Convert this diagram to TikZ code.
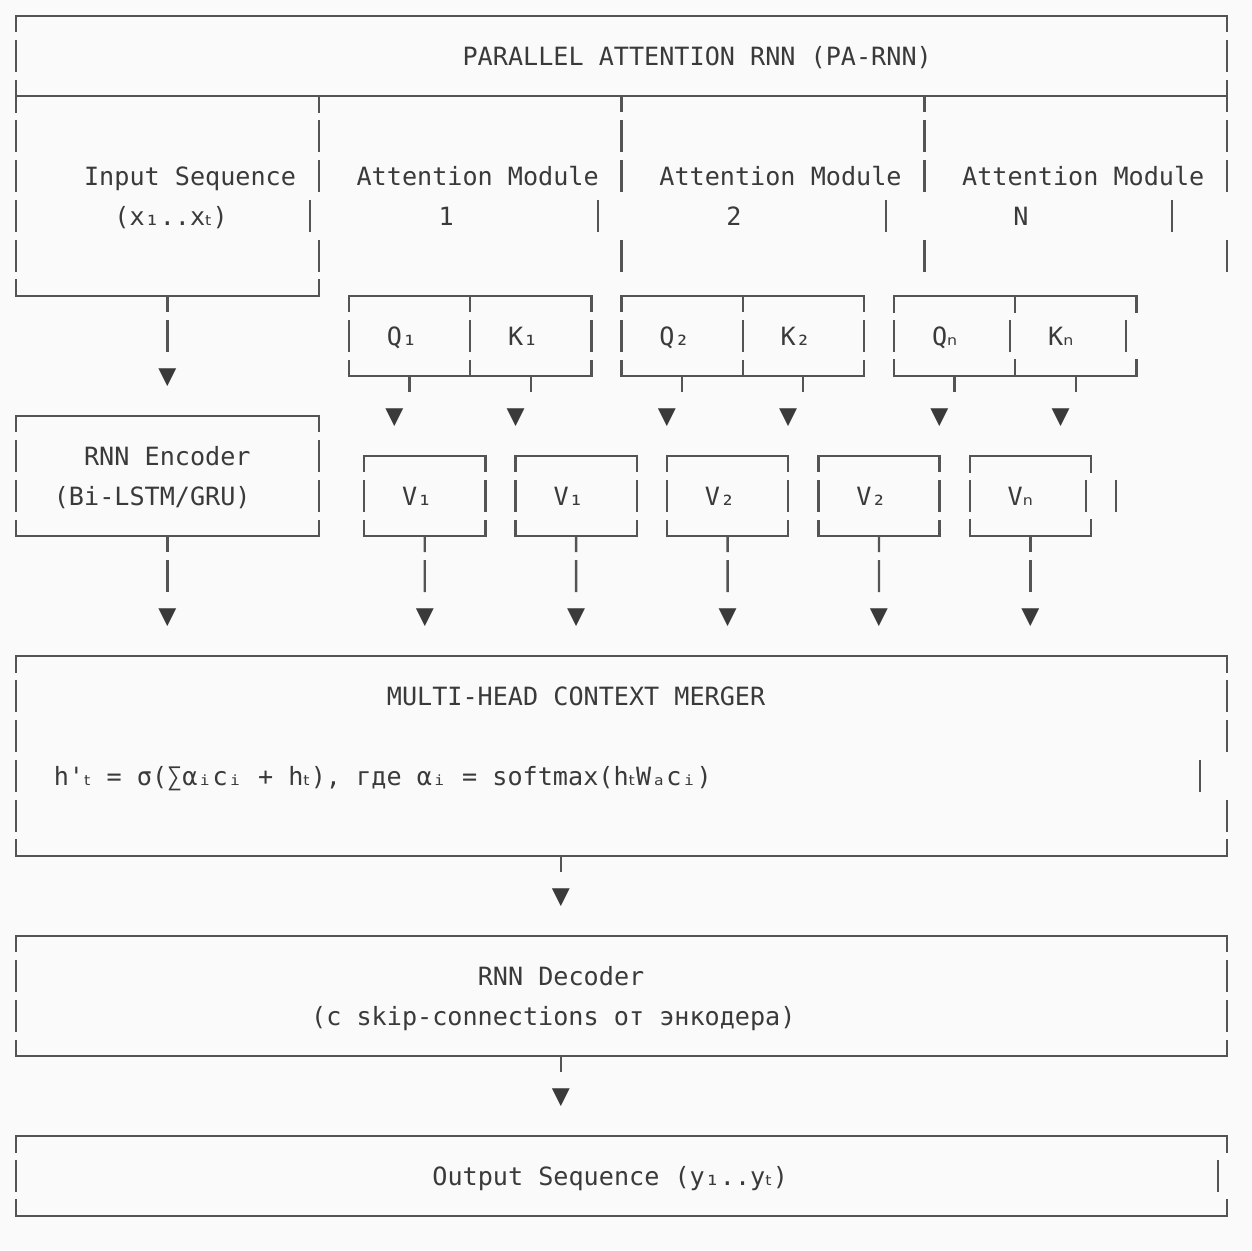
\documentclass[tikz,border=0pt]{standalone}
\usepackage{fontspec}
\newfontfamily\monofont{DejaVu Sans Mono}
\newfontfamily\subfont{DejaVu Sans}
\usetikzlibrary{fit}
\definecolor{paper}{HTML}{FAFAFA}
\definecolor{ink}{HTML}{3A3A3A}
\definecolor{rule}{HTML}{545454}
\newcommand{\subt}{{\subfont ₜ}}
\newcommand{\subn}{{\subfont ₙ}}
\tikzset{
  seg/.style={draw=rule, line width=1.2pt},
  frame/.style={seg, line cap=rect},
  bar/.style={seg, dash pattern=on 16pt off 4pt, dash phase=8pt},
  txt/.style={font=\monofont\fontsize{12.57pt}{15pt}\selectfont, text=ink,
    inner sep=0pt, outer sep=0pt, text height=9pt, text depth=0pt, anchor=west},
  headmark/.style={txt, anchor=center, font=\monofont\fontsize{15pt}{15pt}\selectfont},
  area/.style={inner sep=0pt, outer sep=0pt},
  box/.style={area, append after command={
    (\tikzlastnode.north west) edge[frame] (\tikzlastnode.north east)
    (\tikzlastnode.south west) edge[frame] (\tikzlastnode.south east)
    (\tikzlastnode.north west) edge[bar] (\tikzlastnode.south west)
    (\tikzlastnode.north east) edge[bar] (\tikzlastnode.south east)}},
  shell/.style={area, append after command={
    ([yshift=-8pt]\tikzlastnode.north west) edge[frame] (\tikzlastnode.north west)
    (\tikzlastnode.north west) edge[frame] (\tikzlastnode.north east)
    (\tikzlastnode.north east) edge[frame] ([yshift=-8pt]\tikzlastnode.north east)
    ([yshift=8pt]\tikzlastnode.south west) edge[frame] (\tikzlastnode.south west)
    (\tikzlastnode.south west) edge[frame] (\tikzlastnode.south east)
    (\tikzlastnode.south east) edge[frame] ([yshift=8pt]\tikzlastnode.south east)}}
}
\begin{document}
\begin{tikzpicture}[x=0.5pt, y=-0.5pt]
	\path[fill=paper, use as bounding box] (0,0) rectangle (1252,1250);

	% title
	\node[box, fit={(16,16) (1227.2,96)}] (top) {};
	\node[txt] (title) at (462.6,56) {PARALLEL ATTENTION RNN (PA-RNN)};

	% input sequence and attention modules
	\node[shell, fit={(16,96) (318.8,296)}] (inbox) {};
	\foreach \x in {621.6,924.4,1227.2}
		\draw[seg] (\x,96) -- (\x,112);
	\foreach \x in {16,318.8,621.6,924.4,1227.2}
		\foreach \y in {136,176,256}
			\draw[seg] (\x,\y-16) -- (\x,\y+16);
	\foreach \x in {16,310,598,886,1172}
		\draw[seg] (\x,200) -- (\x,232);
	\node[txt] (inname) at (84.1,176) {Input Sequence};
	\node[txt] (invars) at (114.4,216) {(x₁..x\subt)};
	\node[txt] (att1) at (356.6,176) {Attention Module};
	\node[txt] (att2) at (659.4,176) {Attention Module};
	\node[txt] (attn) at (962.2,176) {Attention Module};
	\node[txt, anchor=center] (att1no) at (446.3,216) {1};
	\node[txt, anchor=center] (att2no) at (734,216) {2};
	\node[txt, anchor=center] (attnno) at (1021,216) {N};

	% queries and keys
	\node[box, fit={(349.1,296) (470.2,376)}] (q1) {};
	\node[box, fit={(470.2,296) (591.3,376)}] (k1) {};
	\node[box, fit={(621.6,296) (742.7,376)}] (q2) {};
	\node[box, fit={(742.7,296) (863.8,376)}] (k2) {};
	\node[shell, fit={(894.1,296) (1015.2,376)}] (qn) {};
	\node[shell, fit={(1015.2,296) (1136.4,376)}] (kn) {};
	\foreach \x in {894.1,1010,1126}
		\draw[seg] (\x,320) -- (\x,352);
	\node[txt] (q1name) at (386.9,336) {Q₁};
	\node[txt] (k1name) at (508.0,336) {K₁};
	\node[txt] (q2name) at (659.4,336) {Q₂};
	\node[txt] (k2name) at (780.6,336) {K₂};
	\node[txt] (qnname) at (932.0,336) {Q\subn};
	\node[txt] (knname) at (1048.1,336) {K\subn};

	% input -> encoder
	\node[headmark] (h0) at (167.4,376) {▼};
	\draw[bar, shorten >=12pt] (inbox.south) -- (h0.center);

	% queries and keys -> values
	\node[headmark] (hq1) at (394.5,416) {▼};
	\node[headmark] (hk1) at (515.6,416) {▼};
	\node[headmark] (hq2) at (667.0,416) {▼};
	\node[headmark] (hk2) at (788.1,416) {▼};
	\node[headmark] (hqn) at (939.5,416) {▼};
	\node[headmark] (hkn) at (1060.7,416) {▼};
	\draw[bar, shorten >=12pt] (q1.south) -- (q1.south |- hq1.center);
	\draw[bar, shorten >=12pt] (k1.south) -- (k1.south |- hk1.center);
	\draw[bar, shorten >=12pt] (q2.south) -- (q2.south |- hq2.center);
	\draw[bar, shorten >=12pt] (k2.south) -- (k2.south |- hk2.center);
	\draw[bar, shorten >=12pt] (qn.south) -- (qn.south |- hqn.center);
	\draw[bar, shorten >=12pt] (kn.south) -- (kn.south |- hkn.center);

	% encoder and values
	\node[box, fit={(16,416) (318.8,536)}] (enc) {};
	\node[txt] (encname) at (84.1,456) {RNN Encoder};
	\node[txt] (enctype) at (53.85,496) {(Bi-LSTM/GRU)};
	\node[box, fit={(364.2,456) (485.3,536)}] (v1) {};
	\node[box, fit={(515.6,456) (636.7,536)}] (v2) {};
	\node[box, fit={(667.0,456) (788.1,536)}] (v3) {};
	\node[box, fit={(818.4,456) (939.5,536)}] (v4) {};
	\node[shell, fit={(969.8,456) (1091.0,536)}] (vn) {};
	\foreach \x in {969.8,1086,1116}
		\draw[seg] (\x,480) -- (\x,512);
	\node[txt] (v1name) at (402.1,496) {V₁};
	\node[txt] (v2name) at (553.5,496) {V₁};
	\node[txt] (v3name) at (704.9,496) {V₂};
	\node[txt] (v4name) at (856.3,496) {V₂};
	\node[txt] (vnname) at (1007.7,496) {V\subn};

	% encoder and values -> merger
	\node[headmark] (he) at (167.4,616) {▼};
	\node[headmark] (hv1) at (424.8,616) {▼};
	\node[headmark] (hv2) at (576.2,616) {▼};
	\node[headmark] (hv3) at (727.6,616) {▼};
	\node[headmark] (hv4) at (879.0,616) {▼};
	\node[headmark] (hvn) at (1030.4,616) {▼};
	\draw[bar, shorten >=12pt] (enc.south) -- (he.center);
	\draw[bar, shorten >=12pt] (v1.south) -- (hv1.center);
	\draw[bar, shorten >=12pt] (v2.south) -- (hv2.center);
	\draw[bar, shorten >=12pt] (v3.south) -- (hv3.center);
	\draw[bar, shorten >=12pt] (v4.south) -- (hv4.center);
	\draw[bar, shorten >=12pt] (vn.south) -- (hvn.center);

	% merger
	\node[shell, fit={(16,656) (1227.2,856)}] (merge) {};
	\foreach \y in {696,736,776,816}
		\draw[seg] (16,\y-16) -- (16,\y+16);
	\foreach \y in {696,736,816}
		\draw[seg] (1227.2,\y-16) -- (1227.2,\y+16);
	\draw[seg] (1200,760) -- (1200,792);
	\node[txt] (mergename) at (386.9,696) {MULTI-HEAD CONTEXT MERGER};
	\node[txt] (mergerule) at (53.85,776) {h'\subt{} = σ(∑αᵢcᵢ + h\subt), где αᵢ = softmax(h\subt{}Wₐcᵢ)};

	% decoder
	\node[headmark] (hm) at (561.0,896) {▼};
	\draw[bar, shorten >=12pt] (merge.south -| hm.center) -- (hm.center);
	\node[box, fit={(16,936) (1227.2,1056)}] (dec) {};
	\node[txt] (decname) at (477.8,976) {RNN Decoder};
	\node[txt] (decnote) at (311.2,1016) {(с skip-connections от энкодера)};

	% output
	\node[headmark] (hd) at (561.0,1096) {▼};
	\draw[bar, shorten >=12pt] (dec.south -| hd.center) -- (hd.center);
	\node[shell, fit={(16,1136) (1227.2,1216)}] (out) {};
	\draw[seg] (16,1160) -- (16,1192);
	\draw[seg] (1218,1160) -- (1218,1192);
	\node[txt] (outname) at (432.4,1176) {Output Sequence (y₁..y\subt)};
\end{tikzpicture}
\end{document}
